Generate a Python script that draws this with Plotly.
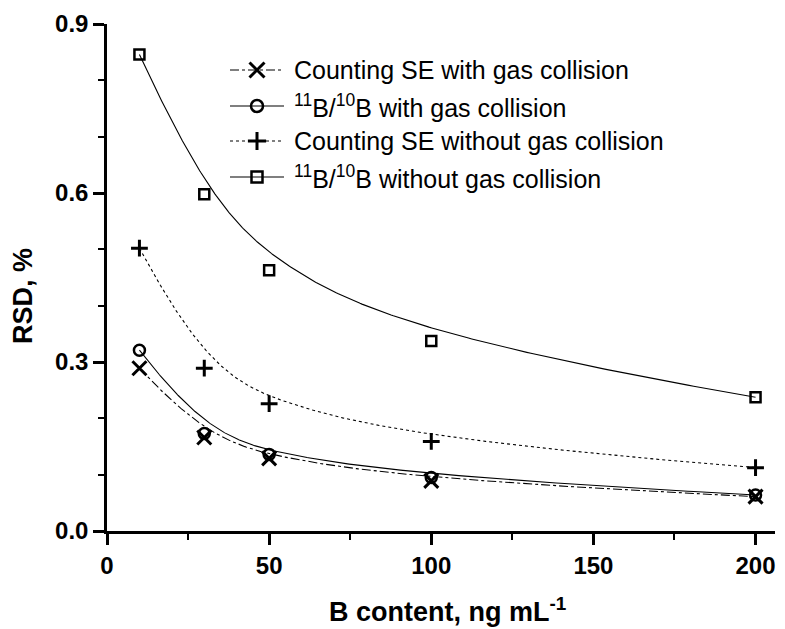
import numpy as np
import plotly.graph_objects as go

# ---- data ----
x_conc = [10, 30, 50, 100, 200]
se_with_gas = [0.289, 0.166, 0.129, 0.089, 0.061]
ratio_with_gas = [0.321, 0.173, 0.136, 0.095, 0.064]
se_without_gas = [0.502, 0.289, 0.226, 0.159, 0.1125]
ratio_without_gas = [0.846, 0.598, 0.463, 0.3375, 0.2375]

names = [
    "Counting SE with gas collision",
    "<sup>11</sup>B/<sup>10</sup>B with gas collision",
    "Counting SE without gas collision",
    "<sup>11</sup>B/<sup>10</sup>B without gas collision",
]
series = [se_with_gas, ratio_with_gas, se_without_gas, ratio_without_gas]
dashes = ["dashdot", "solid", "dot", "solid"]
symbols = ["x-thin-open", "circle-open", "cross-thin-open", "square-open"]
sizes = [14, 11, 12, 10]
mlw = [3, 2.5, 3, 2.5]


def bspline(px, py, n=300, k=3):
    """Clamped uniform B-spline using data points as control points."""
    P = np.column_stack([px, py]).astype(float)
    m = len(P)
    inner = np.linspace(0, 1, m - k + 1)
    t = np.concatenate([[0] * k, inner, [1] * k])
    u = np.linspace(0, 1, n)
    u[-1] = 1 - 1e-12

    def N(i, p, uu):
        if p == 0:
            return np.where((t[i] <= uu) & (uu < t[i + 1]), 1.0, 0.0)
        a = 0.0
        b = 0.0
        d1 = t[i + p] - t[i]
        d2 = t[i + p + 1] - t[i + 1]
        if d1 > 0:
            a = (uu - t[i]) / d1 * N(i, p - 1, uu)
        if d2 > 0:
            b = (t[i + p + 1] - uu) / d2 * N(i + 1, p - 1, uu)
        return a + b

    Bm = np.array([N(i, k, u) for i in range(m)])
    C = Bm.T @ P
    return C[:, 0], C[:, 1]


W, H = 785, 629
L, R, T, B_ = 107, 10, 24, 98
font = "Liberation Sans, Arial, sans-serif"


def paper_x(px):
    return (px - L) / (W - L - R)


def paper_y(py):
    return (H - B_ - py) / (H - T - B_)


fig = go.Figure()

# curves and markers
for ys, d, sym, sz, lw in zip(series, dashes, symbols, sizes, mlw):
    cx, cy = bspline(x_conc, ys)
    fig.add_trace(go.Scatter(
        x=cx, y=cy, mode="lines", showlegend=False,
        line=dict(color="black", width=1.1, dash=d), hoverinfo="skip",
    ))
    fig.add_trace(go.Scatter(
        x=x_conc, y=ys, mode="markers", showlegend=False,
        marker=dict(symbol=sym, size=sz, color="black",
                    line=dict(color="black", width=lw)),
    ))

# custom legend drawn on an overlay axis in pixel units
leg_x0, leg_x1, leg_xm, leg_tx = 230, 284, 257, 292
leg_rows = [70, 106, 141, 177]
for nm, d, sym, sz, lw, ry in zip(names, dashes, symbols, sizes, mlw, leg_rows):
    fig.add_trace(go.Scatter(
        x=[leg_x0, leg_x1], y=[ry, ry], mode="lines", showlegend=False,
        xaxis="x2", yaxis="y2", hoverinfo="skip",
        line=dict(color="black", width=1.1, dash=d),
    ))
    fig.add_trace(go.Scatter(
        x=[leg_xm], y=[ry], mode="markers", showlegend=False,
        xaxis="x2", yaxis="y2", hoverinfo="skip",
        marker=dict(symbol=sym, size=sz + 1, color="black",
                    line=dict(color="black", width=lw)),
    ))
    fig.add_annotation(
        x=paper_x(leg_tx), y=paper_y(ry), xref="paper", yref="paper",
        text=nm, showarrow=False, xanchor="left", yanchor="middle",
        font=dict(size=25, family=font, color="black"),
    )

fig.update_layout(
    width=W, height=H,
    margin=dict(l=L, r=R, t=T, b=B_),
    plot_bgcolor="white", paper_bgcolor="white",
    font=dict(family=font, color="black"),
    showlegend=False,
    xaxis2=dict(range=[L, W - R], overlaying="x", visible=False, fixedrange=True),
    yaxis2=dict(range=[H - B_, T], overlaying="y", visible=False, fixedrange=True),
)

fig.layout.xaxis.update(
    range=[0, 206], showgrid=False, zeroline=False,
    showline=True, linecolor="black", linewidth=2.5,
    ticks="outside", tickwidth=2.5, ticklen=11, tickcolor="black",
    tick0=0, dtick=50,
    minor=dict(ticks="outside", ticklen=6, tickwidth=2, dtick=25, tickcolor="black"),
    tickfont=dict(size=24, family=font, weight="bold"),
)
fig.layout.yaxis.update(
    range=[0, 0.9], showgrid=False, zeroline=False,
    showline=True, linecolor="black", linewidth=2.5,
    ticks="outside", tickwidth=2.5, ticklen=11, tickcolor="black",
    tick0=0, dtick=0.3, tickformat=".1f",
    minor=dict(ticks="outside", ticklen=6, tickwidth=2, dtick=0.1, tickcolor="black"),
    tickfont=dict(size=24, family=font, weight="bold"),
)

# axis titles
fig.add_annotation(
    x=paper_x(447), y=paper_y(610), xref="paper", yref="paper",
    text="B content, ng mL<sup>-1</sup>",
    showarrow=False, xanchor="center", yanchor="middle",
    font=dict(size=27, family=font, weight="bold", color="black"),
)
fig.add_annotation(
    x=paper_x(23), y=paper_y(296), xref="paper", yref="paper",
    text="RSD, %", textangle=-90,
    showarrow=False, xanchor="center", yanchor="middle",
    font=dict(size=27, family=font, weight="bold", color="black"),
)

fig.write_html("out.html")
